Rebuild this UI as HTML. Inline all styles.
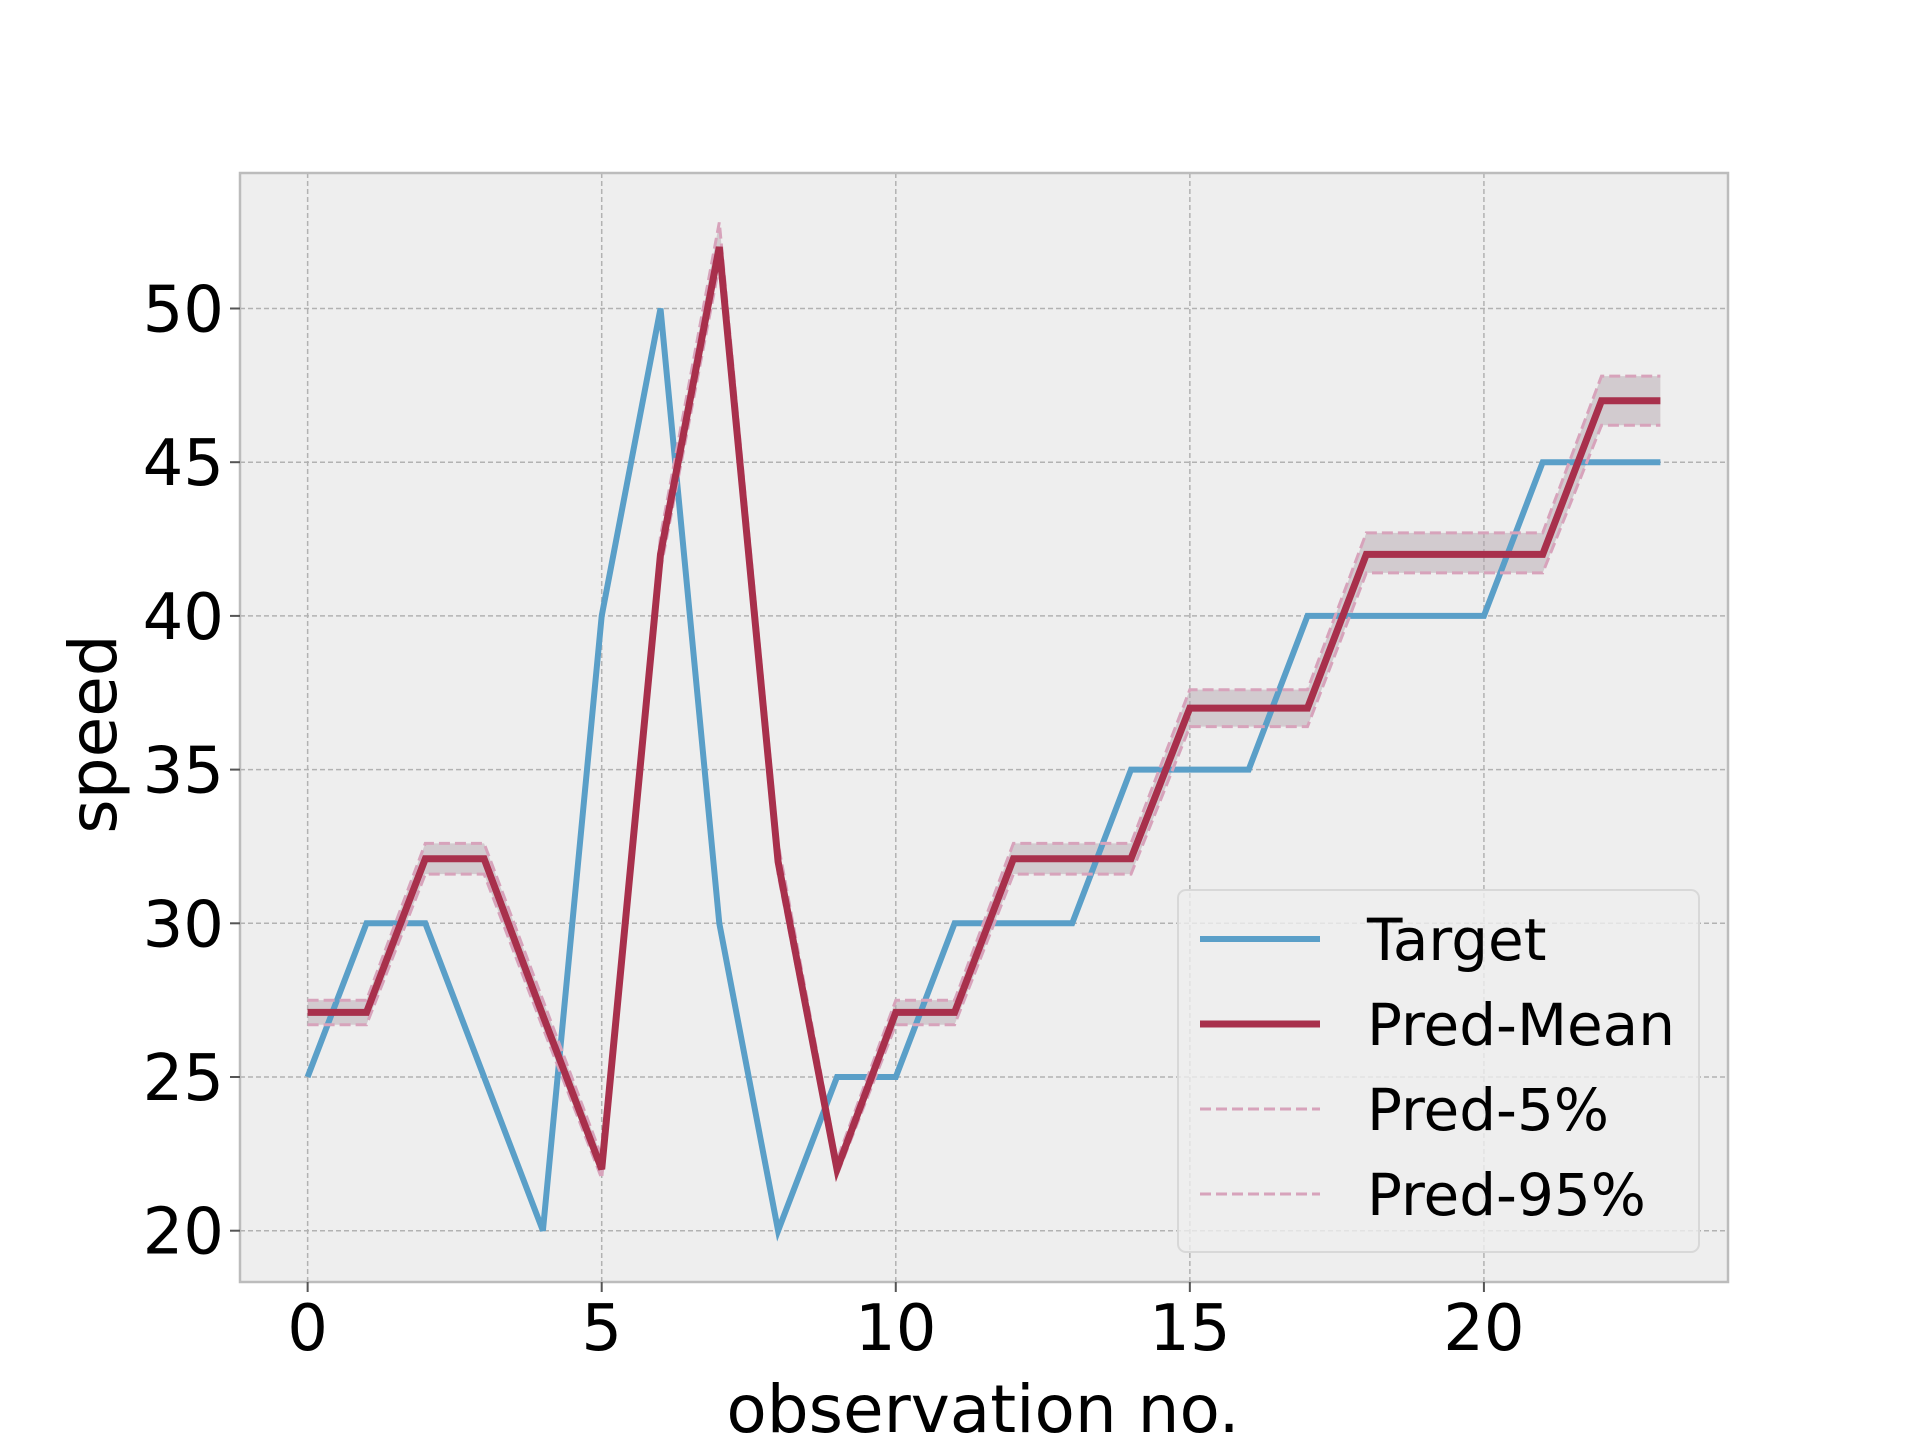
<!DOCTYPE html>
<html><head><meta charset="utf-8"><style>
html,body{margin:0;padding:0;background:#fff;}
svg{display:block;font-family:"DejaVu Sans","Liberation Sans",sans-serif;}
</style></head><body>
<svg id="chart" width="1920" height="1440" viewBox="0 0 1920 1440">
<rect x="240" y="173" width="1488" height="1109" fill="#eeeeee"/>
<g id="grid"></g>
<g id="series"></g>
<rect x="240" y="173" width="1488" height="1109" fill="none" stroke="#bcbcbc" stroke-width="2.5"/>
<g id="ticks"></g>
<text x="983" y="1432" font-size="66" text-anchor="middle">observation no.</text>
<text x="0" y="0" font-size="66" text-anchor="middle" transform="translate(116,734) rotate(-90)">speed</text>
<g>
<rect x="1178" y="890" width="521" height="362" rx="8" fill="#eeeeee" fill-opacity="0.8" stroke="#d8d8d8" stroke-width="2"/>
<line x1="1200" y1="939" x2="1320" y2="939" stroke="#5a9fc8" stroke-width="6"/>
<text x="1367" y="960" font-size="58">Target</text>
<line x1="1200" y1="1024" x2="1320" y2="1024" stroke="#a8304c" stroke-width="7"/>
<text x="1367" y="1045" font-size="58">Pred-Mean</text>
<line x1="1200" y1="1109" x2="1320" y2="1109" stroke="#d7a3bb" stroke-width="3" stroke-dasharray="11,5"/>
<text x="1367" y="1130" font-size="58">Pred-5%</text>
<line x1="1200" y1="1194" x2="1320" y2="1194" stroke="#d7a3bb" stroke-width="3" stroke-dasharray="11,5"/>
<text x="1367" y="1215" font-size="58">Pred-95%</text>
</g>
</svg>
<script>
const target = [25,30,30,25,20,40,50,30,20,25,25,30,30,30,35,35,35,40,40,40,40,45,45,45];
const predMean = [27.1,27.1,32.1,32.1,27,22,42,52,32,22,27.1,27.1,32.1,32.1,32.1,37,37,37,42,42,42,42,47,47];
const pred5 = [26.7,26.7,31.6,31.6,26.6,21.7,41.5,51.4,31.6,21.8,26.7,26.7,31.6,31.6,31.6,36.4,36.4,36.4,41.4,41.4,41.4,41.4,46.2,46.2];
const pred95 = [27.5,27.5,32.6,32.6,27.5,22.4,42.6,52.8,32.6,22.3,27.5,27.5,32.6,32.6,32.6,37.6,37.6,37.6,42.7,42.7,42.7,42.7,47.8,47.8];
const xTicks = [0,5,10,15,20];
const yTicks = [20,25,30,35,40,45,50];

const NS='http://www.w3.org/2000/svg';
function X(v){return 240+(v+1.15)*58.814;}
function Y(v){return 1230.7-(v-20)*30.74;}
function mk(tag,parent,attrs){const e=document.createElementNS(NS,tag);for(const k in attrs)e.setAttribute(k,attrs[k]);parent.appendChild(e);return e;}
const grid=document.getElementById('grid'),series=document.getElementById('series'),ticks=document.getElementById('ticks');
xTicks.forEach(t=>{
  const l=mk('line',grid,{x1:X(t),x2:X(t),y1:173,y2:1282,stroke:'#b2b2b2','stroke-width':1.5,'stroke-dasharray':'5,3'});
  
  
  const tk=mk('line',ticks,{x1:X(t),x2:X(t),y1:1282,y2:1292,stroke:'#555','stroke-width':2});
  
  
  const tx=mk('text',ticks,{x:X(t),y:1350,'font-size':64,'text-anchor':'middle'});
  tx.textContent=t;
  
  
});
yTicks.forEach(t=>{
  const l=mk('line',grid,{x1:240,x2:1728,y1:Y(t),y2:Y(t),stroke:'#b2b2b2','stroke-width':1.5,'stroke-dasharray':'5,3'});
  
  
  const tk=mk('line',ticks,{x1:230,x2:240,y1:Y(t),y2:Y(t),stroke:'#555','stroke-width':2});
  
  
  const tx=mk('text',ticks,{x:224,y:Y(t)+23,'font-size':64,'text-anchor':'end'});
  tx.textContent=t;
  
  
});
function pts(arr){return arr.map((v,i)=>X(i).toFixed(1)+','+Y(v).toFixed(1)).join(' ');}
let band=pred95.map((v,i)=>X(i)+','+Y(v));
for(let i=pred5.length-1;i>=0;i--)band.push(X(i)+','+Y(pred5[i]));
const b=mk('polygon',series,{points:band.join(' '),fill:'#b0a0a8','fill-opacity':0.45});


const t=mk('polyline',series,{points:pts(target),fill:'none',stroke:'#5a9fc8','stroke-width':6});


const p5=mk('polyline',series,{points:pts(pred5),fill:'none',stroke:'#d7a3bb','stroke-width':3,'stroke-dasharray':'11,5'});


const p95=mk('polyline',series,{points:pts(pred95),fill:'none',stroke:'#d7a3bb','stroke-width':3,'stroke-dasharray':'11,5'});


const m=mk('polyline',series,{points:pts(predMean),fill:'none',stroke:'#a8304c','stroke-width':7});


</script>
</body></html>
